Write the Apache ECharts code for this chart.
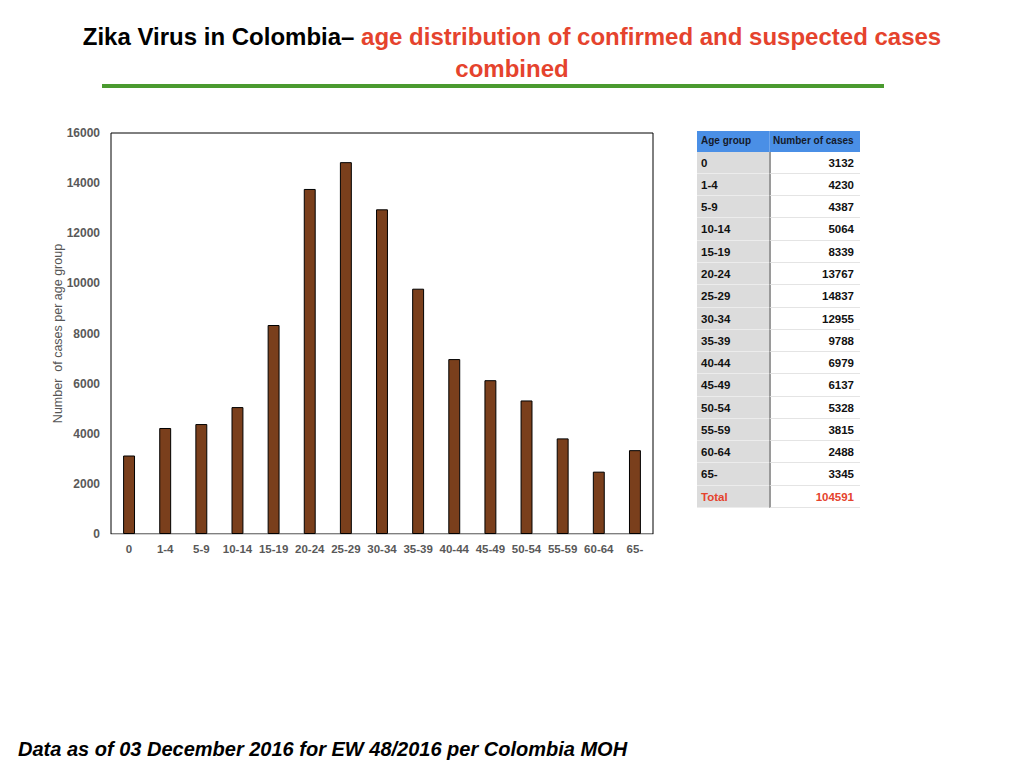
<!DOCTYPE html>
<html>
<head>
<meta charset="utf-8">
<script src="https://cdn.jsdelivr.net/npm/echarts@6/dist/echarts.min.js"></script>
<style>
  html, body { margin: 0; padding: 0; background: #fff; }
  body { width: 1024px; height: 768px; position: relative; overflow: hidden; font-family: "Liberation Sans", Arial, sans-serif; }
  #chart { position: absolute; left: 0; top: 0; width: 1024px; height: 768px; }
  .title { position: absolute; left: 0; width: 1024px; text-align: center; font-weight: bold; font-size: 24px; color: #e5432d; white-space: nowrap; }
  .title .blk { color: #000; }
  #rule { position: absolute; left: 102px; top: 84px; width: 782px; height: 4px; background: #4a9a2f; }
  #foot { position: absolute; left: 18px; top: 738px; font-size: 20px; font-weight: bold; font-style: italic; color: #000; white-space: nowrap; }
  #tbl { position: absolute; left: 697px; top: 131px; width: 163px; }
  .row { position: relative; height: 22.27px; font-weight: bold; font-size: 11.5px; color: #111; white-space: nowrap; }
  .row .c1 { position: absolute; left: 0; top: 0; width: 72px; height: 100%; background: #dcdcdc; border-bottom: 1px solid #ececec; box-sizing: border-box; padding-left: 4px; line-height: 22px; }
  .row .c2 { position: absolute; left: 72px; top: 0; width: 91px; height: 100%; background: #fff; border-left: 2px solid #9a9a9a; border-bottom: 1px solid #e4e4e4; box-sizing: border-box; padding-right: 6px; text-align: right; line-height: 22px; }
  .hdr { height: 20.7px; font-size: 10px; }
  .hdr .c1, .hdr .c2 { background: #4a8fe6; color: #151a2a; line-height: 20.7px; border-bottom: none; }
  .hdr .c2 { border-left: 1px solid #6fa6ec; text-align: left; padding-left: 3px; padding-right: 0; }
  .tot .c1, .tot .c2 { color: #e5432d; }
</style>
</head>
<body>
<div id="chart"></div>
<div class="title" style="top:23px;"><span class="blk">Zika Virus in Colombia– </span>age distribution of confirmed and suspected cases</div>
<div class="title" style="top:55px;">combined</div>
<div id="rule"></div>
<div id="tbl"></div>
<div id="foot">Data as of 03 December 2016 for EW 48/2016 per Colombia MOH</div>
<script>
const ageGroups = ['0','1-4','5-9','10-14','15-19','20-24','25-29','30-34','35-39','40-44','45-49','50-54','55-59','60-64','65-'];
const cases = [3132,4230,4387,5064,8339,13767,14837,12955,9788,6979,6137,5328,3815,2488,3345];
const tableHeader = ['Age group','Number of cases'];
const totalLabel = 'Total';
const yAxisName = 'Number  of cases per age group';

// table
const tbl = document.getElementById('tbl');
function addRow(a, b, cls) {
  const r = document.createElement('div');
  r.className = 'row' + (cls ? ' ' + cls : '');
  const c1 = document.createElement('div'); c1.className = 'c1'; c1.textContent = a;
  const c2 = document.createElement('div'); c2.className = 'c2'; c2.textContent = b;
  r.appendChild(c1); r.appendChild(c2); tbl.appendChild(r);
}
addRow(tableHeader[0], tableHeader[1], 'hdr');
ageGroups.forEach((g, i) => addRow(g, String(cases[i])));
addRow(totalLabel, String(cases.reduce((s, v) => s + v, 0)), 'tot');

const chart = echarts.init(document.getElementById('chart'), null, { renderer: 'svg', width: 1024, height: 768 });
const lbl = { color: '#595959', fontWeight: 'bold', fontFamily: 'Liberation Sans, Arial, sans-serif' };
chart.setOption({
  animation: false,
  grid: { left: 111, top: 133, right: 371, bottom: 234, show: true, borderColor: '#000', borderWidth: 1, backgroundColor: 'transparent' },
  xAxis: {
    type: 'category', data: ageGroups,
    axisTick: { show: false },
    axisLine: { show: true, lineStyle: { color: '#d0d0d0', width: 1 } },
    axisLabel: Object.assign({ fontSize: 11.5, margin: 9, interval: 0 }, lbl)
  },
  yAxis: {
    type: 'value', min: 0, max: 16000, interval: 2000,
    splitLine: { show: false }, axisLine: { show: false }, axisTick: { show: false },
    axisLabel: Object.assign({ fontSize: 12, margin: 11, formatter: v => String(v) }, lbl),
    name: yAxisName, nameLocation: 'middle', nameGap: 47, nameRotate: 90, nameMoveOverlap: false,
    nameTextStyle: { color: '#555', fontSize: 12.5, fontFamily: 'Liberation Sans, Arial, sans-serif' }
  },
  series: [{
    type: 'bar', data: cases, barWidth: '33%',
    itemStyle: { color: '#7a3f1c', borderColor: '#000', borderWidth: 1 }
  }]
});
</script>
</body>
</html>
